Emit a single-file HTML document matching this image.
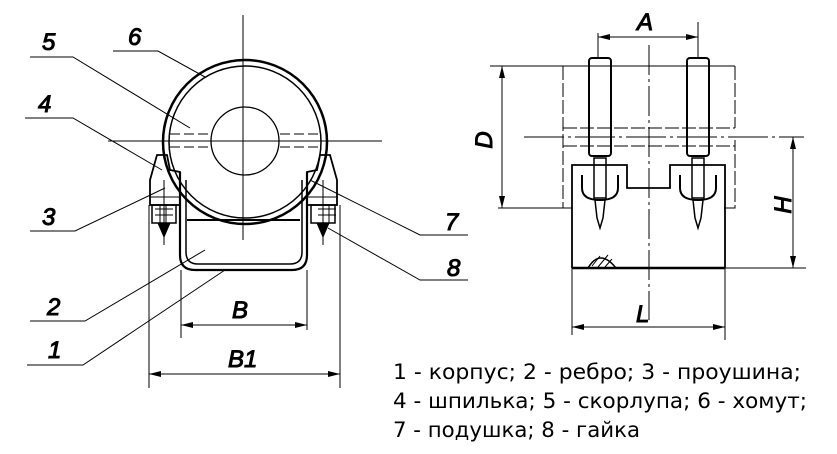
<!DOCTYPE html>
<html><head><meta charset="utf-8"><style>
html,body{margin:0;padding:0;background:#fff;}
svg{display:block;}
.h{font-family:"Liberation Sans",sans-serif;font-style:italic;font-size:24px;fill:#000;}
.t{font-family:"DejaVu Sans","Liberation Sans",sans-serif;font-size:21px;font-weight:normal;fill:#000;stroke:none;}
</style></head><body>
<svg width="837" height="454" viewBox="0 0 837 454" xmlns="http://www.w3.org/2000/svg" fill="none" stroke="#000">
<defs>
<marker id="a" viewBox="0 0 12 6" refX="12" refY="3" markerWidth="12" markerHeight="6" orient="auto-start-reverse" markerUnits="userSpaceOnUse"><path d="M0,0L12,3L0,6z" fill="#000" stroke="none"/></marker>
</defs>
<g stroke-width="1">
<line x1="243" y1="15" x2="243" y2="240"/>
<line x1="108" y1="141" x2="382" y2="141"/>
<line x1="170" y1="134" x2="212" y2="134" stroke-dasharray="10,4"/>
<line x1="170" y1="147" x2="212" y2="147" stroke-dasharray="10,4"/>
<line x1="280" y1="134" x2="322" y2="134" stroke-dasharray="10,4"/>
<line x1="280" y1="147" x2="322" y2="147" stroke-dasharray="10,4"/>
</g>
<circle cx="245" cy="142" r="82" stroke-width="2.5"/>
<circle cx="245" cy="142" r="76" stroke-width="1.5"/>
<circle cx="245" cy="141" r="34" stroke-width="1.3"/>
<path d="M180,172 L180,255 Q180,270 195,270 L292,270 Q307,270 307,255 L307,172" stroke-width="2.2"/>
<path d="M186,180 L186,252 Q186,264 198,264 L290,264 Q302,264 302,252 L302,180" stroke-width="1.5"/>
<line x1="187" y1="220" x2="300" y2="220" stroke-width="2"/>
<path d="M157,155 L167,155 L170,170 L180,172 L180,205 L150,205 L150,180 Z" stroke-width="1.8"/>
<path d="M330,155 L320,155 L317,170 L307,172 L307,205 L337,205 L337,180 Z" stroke-width="1.8"/>
<line x1="150" y1="197" x2="180" y2="197"/><line x1="307" y1="197" x2="337" y2="197"/>
<rect x="152" y="205" width="24" height="18" stroke-width="1.5"/>
<rect x="311" y="205" width="24" height="18" stroke-width="1.5"/>
<path d="M155,209h18M155,215h18M160,205v18M166,205v18M318,209h18M318,215h18M323,205v18M329,205v18" stroke-width="1"/>
<path d="M158,223 L164,237 L170,223 Z" fill="#000"/>
<path d="M317,223 L323,237 L329,223 Z" fill="#000"/>
<line x1="164" y1="180" x2="164" y2="245"/><line x1="323" y1="180" x2="323" y2="245"/>
<g stroke-width="1">
<line x1="181" y1="270" x2="181" y2="338"/><line x1="307" y1="270" x2="307" y2="330"/>
<line x1="149" y1="205" x2="149" y2="388"/><line x1="340" y1="205" x2="340" y2="388"/>
<line x1="181" y1="325" x2="307" y2="325" marker-start="url(#a)" marker-end="url(#a)"/>
<line x1="149" y1="374" x2="340" y2="374" marker-start="url(#a)" marker-end="url(#a)"/>
<polyline points="30,57 73,57 190,128"/>
<polyline points="113,51 158,51 205,77"/>
<polyline points="25,118 73,118 162,170"/>
<polyline points="30,231 75,231 165,188"/>
<polyline points="30,321 85,321 205,250"/>
<polyline points="27,365 83,365 225,270"/>
<polyline points="310,180 420,235 468,235"/>
<polyline points="328,228 420,280 468,280"/>
</g>
<text class="h" x="42" y="50">5</text>
<text class="h" x="128" y="45">6</text>
<text class="h" x="38" y="112">4</text>
<text class="h" x="42" y="225">3</text>
<text class="h" x="47" y="315">2</text>
<text class="h" x="48" y="358">1</text>
<text class="h" x="445" y="230">7</text>
<text class="h" x="447" y="276">8</text>
<text class="h" x="232" y="318">B</text>
<text class="h" x="228" y="367">B1</text>
<g stroke-width="1">
<line x1="649" y1="45" x2="649" y2="320" stroke-dasharray="30,4,3,4"/>
<line x1="524" y1="137" x2="804" y2="137" stroke-dasharray="40,4,3,4"/>
<line x1="490" y1="66" x2="735" y2="66"/>
<line x1="498" y1="208" x2="572" y2="208"/>
<path d="M563,66 V208 H572 M735,66 V128 M724,208 H735 V140" stroke-dasharray="14,3"/>
<line x1="563" y1="128" x2="735" y2="128" stroke-dasharray="14,3"/>
<line x1="563" y1="146" x2="735" y2="146" stroke-dasharray="14,3"/>
<line x1="502" y1="66" x2="502" y2="208" marker-start="url(#a)" marker-end="url(#a)"/>
<line x1="793" y1="137" x2="793" y2="268" marker-start="url(#a)" marker-end="url(#a)"/>
<line x1="598" y1="33" x2="598" y2="58"/><line x1="698" y1="22" x2="698" y2="58"/>
<line x1="598" y1="37" x2="698" y2="37" marker-start="url(#a)" marker-end="url(#a)"/>
<line x1="572" y1="268" x2="572" y2="335"/><line x1="725" y1="268" x2="725" y2="340"/>
<line x1="572" y1="327" x2="725" y2="327" marker-start="url(#a)" marker-end="url(#a)"/>
<line x1="724" y1="268" x2="806" y2="268"/>
</g>
<rect x="589" y="58" width="22" height="98" rx="3" stroke-width="2"/>
<rect x="687" y="58" width="22" height="98" rx="3" stroke-width="2"/>
<path d="M572,268 V165 H627 V188 H670 V165 H725 V268" stroke-width="1.8"/>
<line x1="572" y1="268" x2="725" y2="268" stroke-width="2.5"/>
<path d="M582,175 V188 Q582,200 600,200 Q618,200 618,188 V175" stroke-width="2"/>
<path d="M680,175 V188 Q680,200 698,200 Q716,200 716,188 V175" stroke-width="2"/>
<rect x="594" y="158" width="12" height="40" stroke-width="1.5"/>
<rect x="692" y="158" width="12" height="40" stroke-width="1.5"/>
<path d="M595,200 L605,200 L603,218 L600,228 L597,218 Z M693,200 L703,200 L701,218 L698,228 L695,218 Z" stroke-width="1.5"/>
<path d="M588,268 Q600,248 616,268" stroke-width="1.5"/>
<path d="M592,266l8,-10M598,267l10,-12M605,267l7,-8" stroke-width="1"/>
<text class="h" x="637" y="30">A</text>
<text class="h" x="636" y="322">L</text>
<text class="h" transform="translate(492,140) rotate(-90)" text-anchor="middle">D</text>
<text class="h" transform="translate(791,205) rotate(-90)" text-anchor="middle">H</text>
<text class="t" x="393" y="379" textLength="408" lengthAdjust="spacingAndGlyphs">1 - корпус; 2 - ребро; 3 - проушина;</text>
<text class="t" x="393" y="408" textLength="414" lengthAdjust="spacingAndGlyphs">4 - шпилька; 5 - скорлупа; 6 - хомут;</text>
<text class="t" x="393" y="437" textLength="247" lengthAdjust="spacingAndGlyphs">7 - подушка; 8 - гайка</text>
</svg>
</body></html>
